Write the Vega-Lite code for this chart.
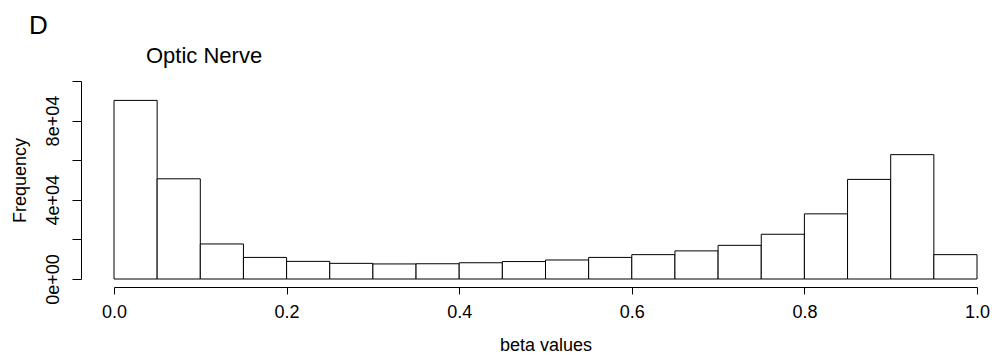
{
  "$schema": "https://vega.github.io/schema/vega-lite/v6.json",
  "padding": {"left": 10, "top": 12, "right": 0, "bottom": 0},
  "background": "white",
  "title": {"text": "D", "anchor": "start", "frame": "group", "fontSize": 26, "font": "Liberation Sans", "fontWeight": "normal", "color": "black", "dx": -85, "offset": 6},
  "config": {"view": {"stroke": null}},
  "vconcat": [
    {
      "width": 863,
      "height": 198,
      "title": {"text": "Optic Nerve", "anchor": "start", "frame": "group", "fontSize": 22, "font": "Liberation Sans", "fontWeight": "normal", "color": "black", "dx": 32, "offset": 13},
      "data": {"values": [
        {"bin_start": 0.00, "bin_end": 0.05, "count": 90200},
        {"bin_start": 0.05, "bin_end": 0.10, "count": 50600},
        {"bin_start": 0.10, "bin_end": 0.15, "count": 17700},
        {"bin_start": 0.15, "bin_end": 0.20, "count": 10900},
        {"bin_start": 0.20, "bin_end": 0.25, "count": 8900},
        {"bin_start": 0.25, "bin_end": 0.30, "count": 7900},
        {"bin_start": 0.30, "bin_end": 0.35, "count": 7600},
        {"bin_start": 0.35, "bin_end": 0.40, "count": 7700},
        {"bin_start": 0.40, "bin_end": 0.45, "count": 8200},
        {"bin_start": 0.45, "bin_end": 0.50, "count": 8800},
        {"bin_start": 0.50, "bin_end": 0.55, "count": 9600},
        {"bin_start": 0.55, "bin_end": 0.60, "count": 10900},
        {"bin_start": 0.60, "bin_end": 0.65, "count": 12300},
        {"bin_start": 0.65, "bin_end": 0.70, "count": 14200},
        {"bin_start": 0.70, "bin_end": 0.75, "count": 17000},
        {"bin_start": 0.75, "bin_end": 0.80, "count": 22600},
        {"bin_start": 0.80, "bin_end": 0.85, "count": 32900},
        {"bin_start": 0.85, "bin_end": 0.90, "count": 50300},
        {"bin_start": 0.90, "bin_end": 0.95, "count": 62800},
        {"bin_start": 0.95, "bin_end": 1.00, "count": 12300}
      ]},
      "mark": {"type": "rect", "fill": "white", "stroke": "black", "strokeWidth": 1},
      "encoding": {
        "x": {
          "field": "bin_start", "type": "quantitative",
          "scale": {"domain": [0, 1], "nice": false, "zero": false},
          "axis": {
            "title": "beta values", "values": [0, 0.2, 0.4, 0.6, 0.8, 1.0], "format": ".1f",
            "offset": 8, "tickSize": 7, "labelPadding": 9, "titlePadding": 15,
            "domainColor": "black", "tickColor": "black", "labelColor": "black", "titleColor": "black",
            "labelFont": "Liberation Sans", "titleFont": "Liberation Sans",
            "labelFontSize": 18, "titleFontSize": 18, "titleFontWeight": "normal",
            "grid": false, "labelFlush": false, "labelOverlap": false
          }
        },
        "x2": {"field": "bin_end"},
        "y": {
          "field": "count", "type": "quantitative",
          "scale": {"domain": [0, 100000], "nice": false},
          "axis": {
            "title": "Frequency", "values": [0, 20000, 40000, 60000, 80000, 100000],
            "labelExpr": "datum.value == 0 ? '0e+00' : datum.value == 40000 ? '4e+04' : datum.value == 80000 ? '8e+04' : ''",
            "labelAngle": -90, "labelAlign": "center", "labelBaseline": "bottom",
            "offset": 33, "tickSize": 9, "labelPadding": 10, "titlePadding": 15,
            "domainColor": "black", "tickColor": "black", "labelColor": "black", "titleColor": "black",
            "labelFont": "Liberation Sans", "titleFont": "Liberation Sans",
            "labelFontSize": 18, "titleFontSize": 18, "titleFontWeight": "normal",
            "grid": false, "labelOverlap": false, "labelFlush": false
          }
        },
        "y2": {"datum": 0}
      }
    }
  ]
}
